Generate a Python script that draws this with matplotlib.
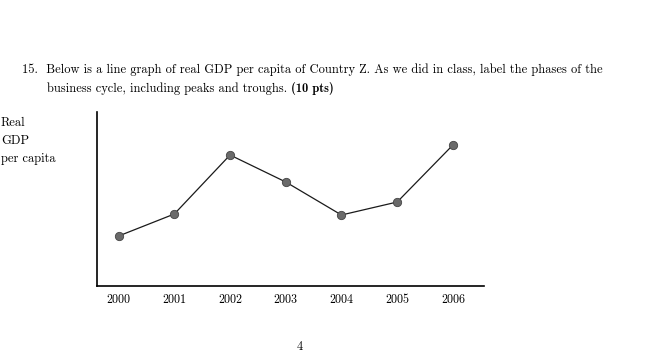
import matplotlib
matplotlib.use("Agg")
import matplotlib.pyplot as plt

years = [2000, 2001, 2002, 2003, 2004, 2005, 2006]
gdp = [50, 72, 131, 104, 71, 84, 141]
tick_labels = ["2000", "2001", "2002", "2003", "2004", "2005", "2006"]

W, H = 659, 356
fig = plt.figure(figsize=(W / 100, H / 100), dpi=100)

# axes: left spine x=97, right x=484, top y=112, bottom y=286
ax = fig.add_axes([97 / W, 1 - 286 / H, (484 - 97) / W, (286 - 112) / H])
ax.plot(years, gdp, color="#1a1a1a", lw=0.9, zorder=2)
ax.plot(years, gdp, "o", ms=6, mfc="#6a6a6a", mec="#444444", mew=0.6, zorder=3)
ax.set_xlim(1999.612, 2006.558)
ax.set_ylim(0, 174)
ax.set_xticks(years)
ax.set_xticklabels(tick_labels, fontfamily="cmr10", fontsize=8.7)
ax.tick_params(axis="x", length=0, pad=6)
ax.set_yticks([])
ax.spines["top"].set_visible(False)
ax.spines["right"].set_visible(False)
ax.spines["left"].set_linewidth(1.2)
ax.spines["bottom"].set_linewidth(1.2)

line1 = ("15.  Below is a line graph of real GDP per capita of Country Z. "
         "As we did in class, label the phases of the")
fs = 10
t1 = fig.text(22 / W, 1 - 73 / H, line1, fontfamily="cmr10", fontsize=fs,
              va="baseline", ha="left")
renderer = fig.canvas.get_renderer()
w = t1.get_window_extent(renderer).width
fs = fs * (601 - 22) / w
t1.set_fontsize(fs)

t2 = fig.text(47 / W, 1 - 92 / H, "business cycle, including peaks and troughs. ",
              fontfamily="cmr10", fontsize=fs, va="baseline", ha="left")
ext = t2.get_window_extent(renderer)
fig.text(ext.x1 / W, 1 - 92 / H, "(10 pts)", fontfamily="cmb10", fontsize=fs,
         va="baseline", ha="left")

for i, s in enumerate(["Real", "GDP", "per capita"]):
    fig.text(1 / W, 1 - (126 + 18 * i) / H, s, fontfamily="cmr10", fontsize=fs,
             va="baseline", ha="left")

fig.text(300 / W, 1 - 350 / H, "4", fontfamily="cmr10", fontsize=fs,
         va="baseline", ha="center")

fig.savefig("out.png", dpi=100)
